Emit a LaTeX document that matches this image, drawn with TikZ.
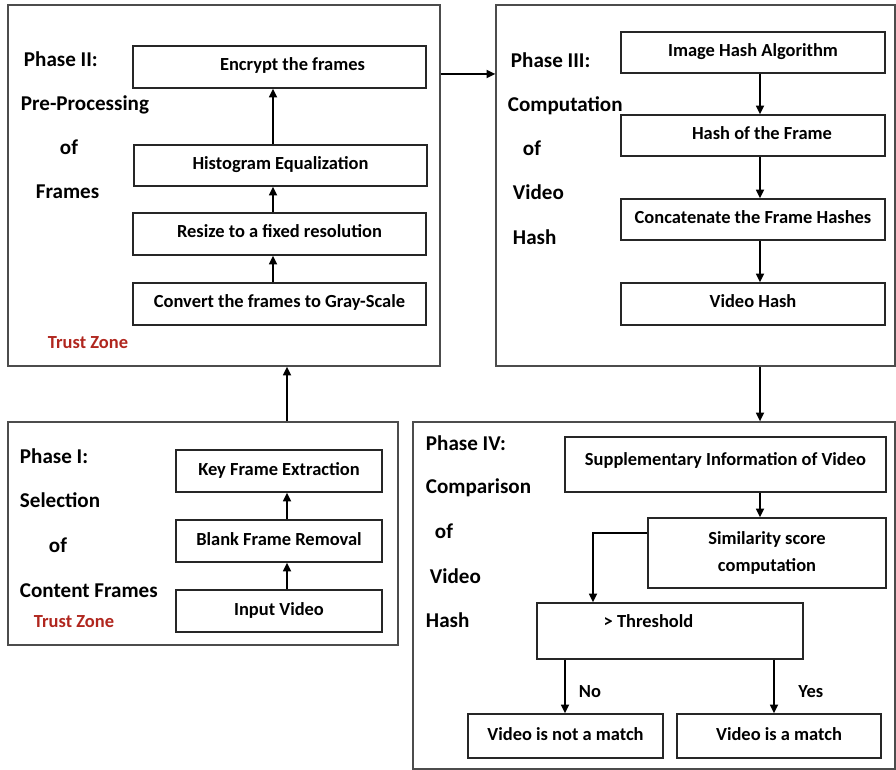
\documentclass[tikz,border=0pt]{standalone}
\usepackage{fontspec}
\setmainfont{Carlito}
\usepackage{tikz}
\usetikzlibrary{arrows.meta}
\usetikzlibrary{positioning}
\definecolor{trustred}{RGB}{176,38,30}

\begin{document}
\begin{tikzpicture}[x=0.02cm, y=-0.02cm, ->, >={Triangle[length=5pt,width=4.5pt]}, line width=1.1pt,
    phase/.style = {draw=black!70, line width=0.7pt, inner sep=0pt},
    boxbase/.style = {draw=black!85, line width=0.7pt, align=center,
        font=\fontsize{10.5}{12.6}\selectfont\bfseries},
    stepbox/.style = {boxbase, text height=0.28cm, text depth=0.12cm},
    title/.style = {anchor=base west, inner sep=0pt, font=\fontsize{12}{14}\selectfont\bfseries},
    trust/.style = {anchor=base west, inner sep=0pt, text=trustred,
        font=\fontsize{10.5}{12.6}\selectfont\bfseries},
    lbl/.style = {font=\fontsize{10.5}{12.6}\selectfont\bfseries, yshift=-2.8pt}]
    \useasboundingbox (0,0) rectangle (896,770);
    % Phase boxes

    \node[phase, minimum width=8.64cm, minimum height=7.22cm] (p2) at (224,185.5) {};
    \node[phase, minimum width=7.98cm, minimum height=7.22cm] (p3) at (695.5,185.5) {};
    \node[phase, minimum width=7.8cm, minimum height=4.46cm] (p1) at (203,533.5) {};
    \node[phase, minimum width=9.64cm, minimum height=6.94cm] (p4) at (654,595.5) {};

    % Phase II
    \node[title] (t21) at (23,67) {Phase II:};
    \node[title] (t22) at (20,111) {Pre-Processing};
    \node[title] (t23) at (59,155) {of};
    \node[title] (t24) at (35,199) {Frames};
    \node[trust] (tz2) at (47,348) {Trust Zone};

    \node[stepbox, minimum width=5.86cm, minimum height=0.84cm] (enc) at (279.5,67) {\hspace*{0.52cm}Encrypt the frames};
    \node[stepbox, minimum width=5.86cm, minimum height=0.82cm] (hist) at (280.5,165.5) {Histogram Equalization};
    \node[stepbox, minimum width=5.86cm, minimum height=0.84cm] (res) at (279.5,234) {Resize to a fixed resolution};
    \node[stepbox, minimum width=5.86cm, minimum height=0.84cm] (gray) at (279.5,304) {Convert the frames to Gray-Scale};

    % Phase III
    \node[title] (t31) at (510,68) {Phase III:};
    \node[title] (t32) at (507,112) {Computation};
    \node[title] (t33) at (522,156) {of};
    \node[title] (t34) at (512,200) {Video};
    \node[title] (t35) at (512,245) {Hash};

    \node[stepbox, minimum width=5.28cm, minimum height=0.82cm] (algo) at (753,52.5) {Image Hash Algorithm};
    \node[stepbox, minimum width=5.28cm, minimum height=0.82cm] (fhash) at (753,135.5) {\hspace*{0.36cm}Hash of the Frame};
    \node[stepbox, minimum width=5.28cm, minimum height=0.82cm] (cat) at (753,219.5) {Concatenate the Frame Hashes};
    \node[stepbox, minimum width=5.28cm, minimum height=0.84cm] (vhash) at (753,304) {Video Hash};

    % Phase I
    \node[title] (t11) at (19,463) {Phase I:};
    \node[title] (t12) at (19,507) {Selection};
    \node[title] (t13) at (48,552) {of};
    \node[title] (t14) at (19,597) {Content Frames};
    \node[trust] (tz1) at (33,627) {Trust Zone};

    \node[stepbox, minimum width=4.12cm, minimum height=0.84cm] (key) at (279,471) {Key Frame Extraction};
    \node[stepbox, minimum width=4.12cm, minimum height=0.84cm] (blank) at (279,541) {Blank Frame Removal};
    \node[stepbox, minimum width=4.12cm, minimum height=0.84cm] (inp) at (279,611) {Input Video};

    % Phase IV
    \node[title] (t41) at (425,450) {Phase IV:};
    \node[title] (t42) at (425,493) {Comparison};
    \node[title] (t43) at (434,538) {of};
    \node[title] (t44) at (429,583) {Video};
    \node[title] (t45) at (425,627) {Hash};

    \node[stepbox, minimum width=6.42cm, minimum height=1.1cm, text depth=0.24cm] (supp) at (725.5,464.5) {Supplementary Information of Video};
    \node[boxbase, minimum width=4.76cm, minimum height=1.4cm] (sim) at (767,553) {Similarity score\\[3pt] computation};
    \node[stepbox, minimum width=5.32cm, minimum height=1.12cm, text depth=0.42cm] (thr) at (670,631) {> Threshold\hspace*{0.86cm}};
    \node[stepbox, minimum width=3.9cm, minimum height=0.88cm] (nom) at (565.5,736) {Video is not a match};
    \node[stepbox, minimum width=4.08cm, minimum height=0.88cm] (mat) at (779,736) {Video is a match};

    % Edges
    \coordinate (xa) at (287,0);
    \coordinate (xb) at (273,0);
    \coordinate (xc) at (760,0);
    \coordinate (xn) at (565,0);
    \coordinate (xy) at (774,0);
    \coordinate (ya) at (0,74);
    \coordinate (bend) at (593,533);

    \draw (inp.north -| xa) -- (blank.south -| xa);
    \draw (blank.north -| xa) -- (key.south -| xa);
    \draw (p1.north -| xa) -- (p2.south -| xa);

    \draw (gray.north -| xb) -- (res.south -| xb);
    \draw (res.north -| xb) -- (hist.south -| xb);
    \draw (hist.north -| xb) -- (enc.south -| xb);

    \draw (p2.east |- ya) -- (p3.west |- ya);

    \draw (algo.south -| xc) -- (fhash.north -| xc);
    \draw (fhash.south -| xc) -- (cat.north -| xc);
    \draw (cat.south -| xc) -- (vhash.north -| xc);
    \draw (p3.south -| xc) -- (p4.north -| xc);

    \draw (supp.south -| xc) -- (sim.north -| xc);
    \draw (sim.west |- bend) -- (bend) -- (thr.north -| bend);
    \draw (thr.south -| xn) -- node[lbl, right=4pt] (no) {No} (nom.north -| xn);
    \draw (thr.south -| xy) -- node[lbl, right=10pt] (yes) {Yes} (mat.north -| xy);

\end{tikzpicture}
\end{document}
